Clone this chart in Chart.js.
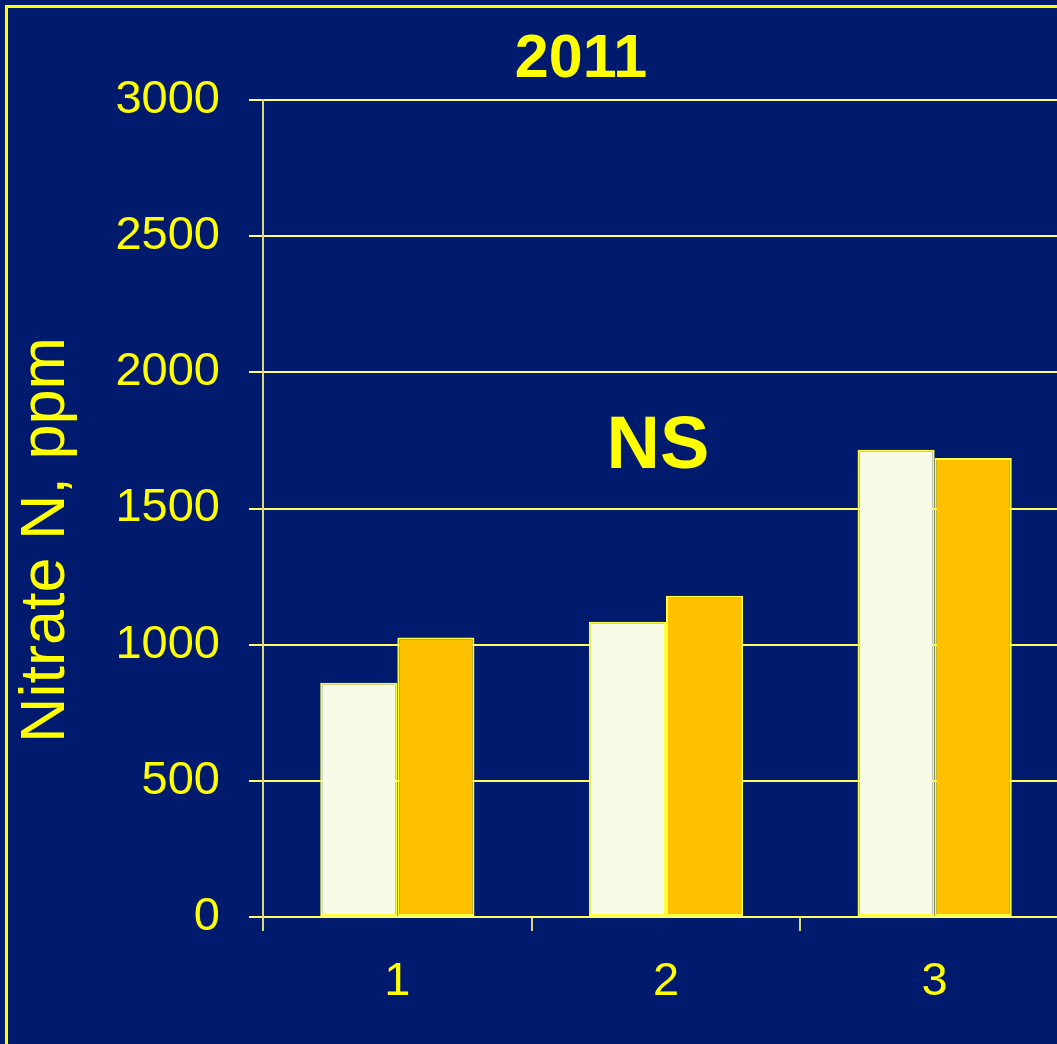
<!DOCTYPE html>
<html>
<head>
<meta charset="utf-8">
<script src="https://cdn.jsdelivr.net/npm/chart.js@4"></script>
<style>
  html, body { margin: 0; padding: 0; background: #001a6e; overflow: hidden; width: 1057px; height: 1044px; }
  #frame { position: absolute; left: 5px; top: 5px; width: 1200px; height: 1200px; border-left: 3px solid #ffff00; border-top: 3px solid #ffff00; }
  #chart { position: absolute; left: 0; top: 0; }
</style>
</head>
<body>
<div id="frame"></div>
<canvas id="chart" width="1069" height="1044"></canvas>
<script>
const categories = ["1", "2", "3"];
const seriesA = [860, 1084, 1716];
const seriesB = [1026, 1180, 1685];
const yTicks = [0, 500, 1000, 1500, 2000, 2500, 3000];

const FONT = "'Liberation Sans', Arial, sans-serif";
const YELLOW = "#ffff00";

// title, axis title and the "NS" note, drawn on top of the chart
const textLayer = {
  id: "textLayer",
  afterDraw(chart) {
    const ctx = chart.ctx;
    const x = chart.scales.x;
    const y = chart.scales.y;
    ctx.save();
    ctx.fillStyle = YELLOW;
    ctx.textAlign = "center";
    ctx.textBaseline = "middle";

    ctx.font = "bold 61px " + FONT;
    ctx.fillText("2011", 581, 60);

    ctx.font = "bold 74px " + FONT;
    ctx.fillText("NS", x.getPixelForValue(0.97), y.getPixelForValue(1725));

    ctx.translate(47, 540);
    ctx.rotate(-Math.PI / 2);
    ctx.font = "63px " + FONT;
    ctx.fillText("Nitrate N, ppm", 0, 0);
    ctx.restore();
  }
};

new Chart(document.getElementById("chart").getContext("2d"), {
  type: "bar",
  data: {
    labels: categories,
    datasets: [
      {
        label: "A",
        data: seriesA,
        backgroundColor: "#f8fce6",
        borderColor: "#ffff40",
        borderWidth: 2,
        borderSkipped: false,
        categoryPercentage: 0.574,
        barPercentage: 1.0
      },
      {
        label: "B",
        data: seriesB,
        backgroundColor: "#ffc000",
        borderColor: "#ffff40",
        borderWidth: 2,
        borderSkipped: false,
        categoryPercentage: 0.574,
        barPercentage: 1.0
      }
    ]
  },
  options: {
    responsive: false,
    animation: false,
    layout: { padding: { top: 100, right: 0, bottom: 0, left: 0 } },
    plugins: {
      legend: { display: false },
      tooltip: { enabled: false },
      title: { display: false }
    },
    scales: {
      x: {
        offset: true,
        grid: {
          offset: true,
          drawOnChartArea: false,
          drawTicks: true,
          tickLength: 14,
          color: "#d8d880",
          lineWidth: 2
        },
        border: { display: true, color: "#ffff66", width: 2 },
        ticks: {
          color: YELLOW,
          font: { family: FONT, size: 47 },
          padding: 23
        },
        afterFit(scale) { scale.height = 127; }
      },
      y: {
        min: 0,
        max: 3000,
        afterBuildTicks(scale) { scale.ticks = yTicks.map(v => ({ value: v })); },
        grid: {
          color: "#ffff66",
          lineWidth: 2,
          drawTicks: true,
          tickLength: 14
        },
        border: { display: true, color: "#d8d880", width: 2 },
        ticks: {
          color: YELLOW,
          font: { family: FONT, size: 47 },
          padding: 29,
          callback: v => String(v)
        },
        afterFit(scale) { scale.width = 263; }
      }
    }
  },
  plugins: [textLayer]
});
</script>
</body>
</html>
